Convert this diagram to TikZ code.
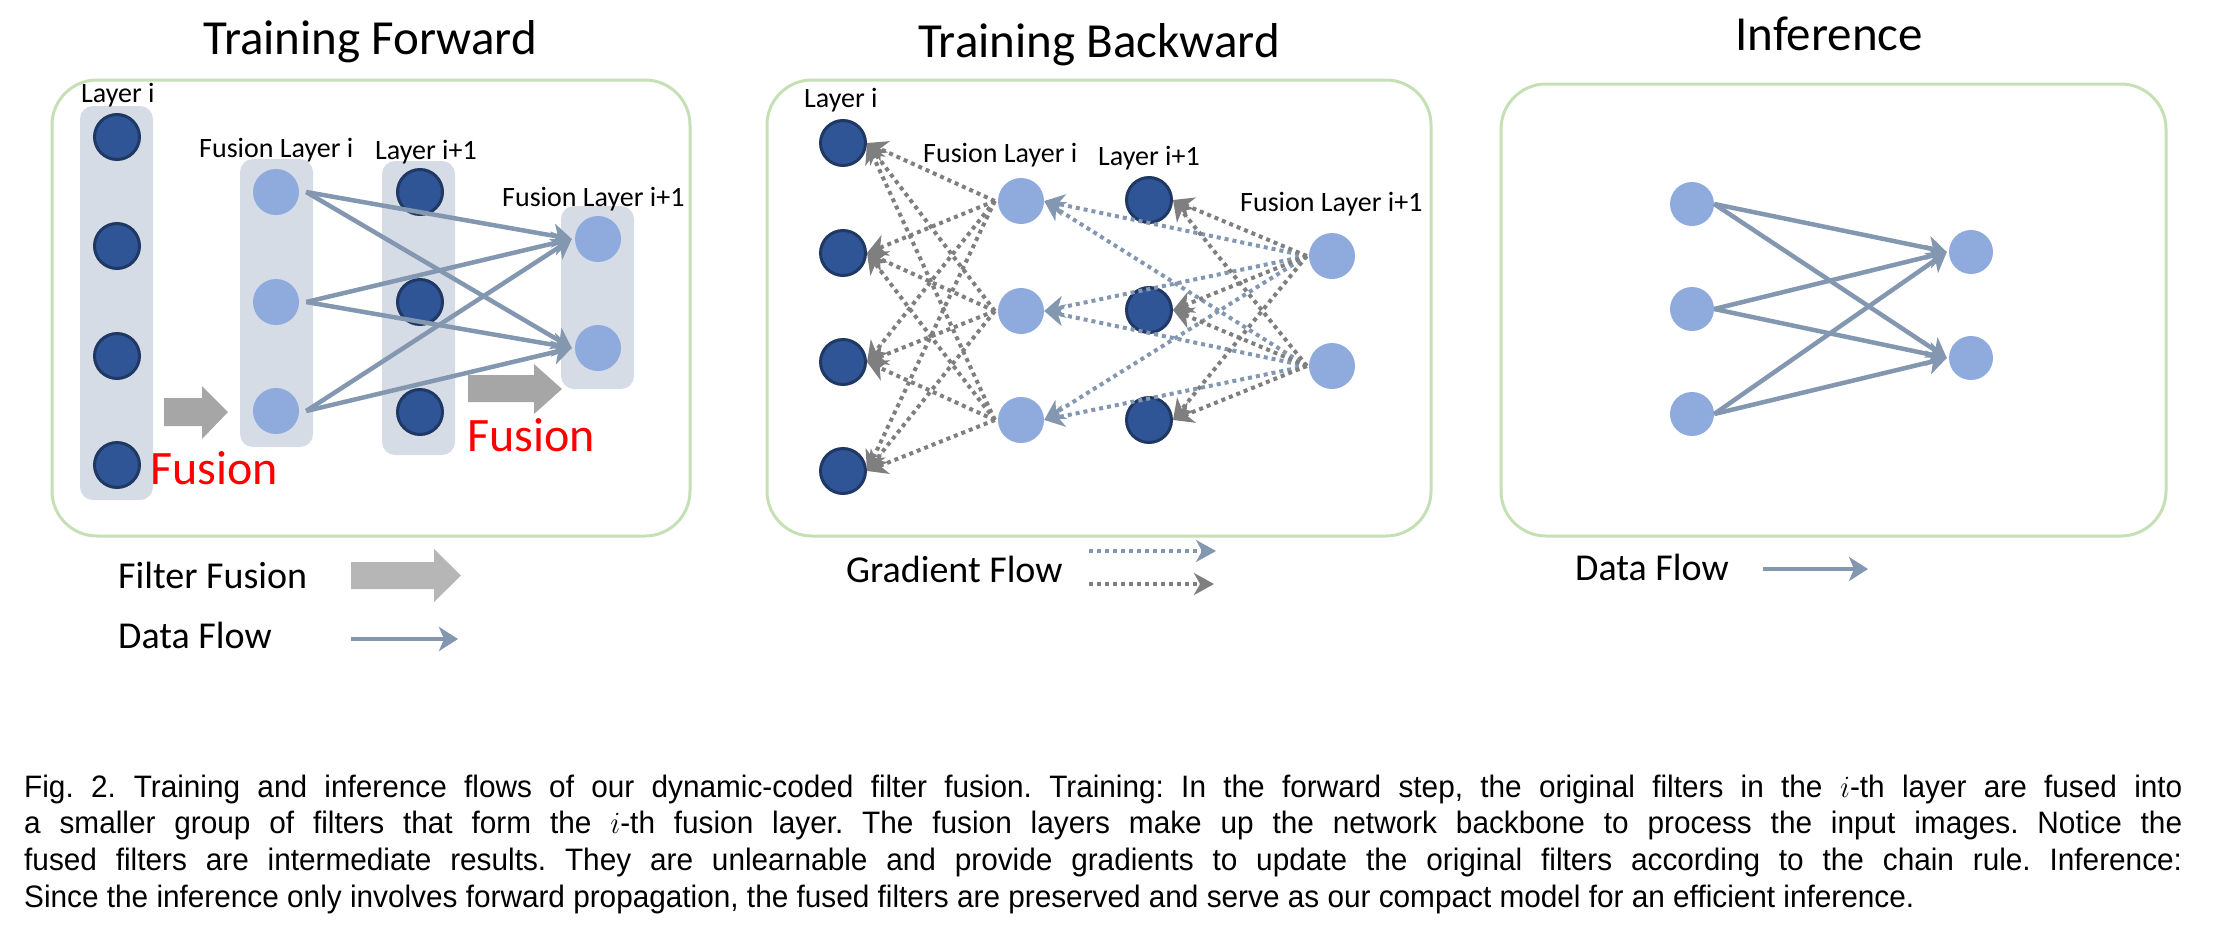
\documentclass[tikz,border=0pt]{standalone}
\usepackage{fix-cm}
\usepackage{graphicx}
\usepackage{fontspec}
\setmainfont{Carlito}
\newfontfamily\capfont{Liberation Sans}
\usetikzlibrary{arrows.meta}
\definecolor{dkblue}{HTML}{2F5597}
\definecolor{dkborder}{HTML}{1F3864}
\definecolor{ltblue}{HTML}{8FAADC}
\definecolor{layerbg}{HTML}{D6DCE5}
\definecolor{flowc}{HTML}{8497B0}
\definecolor{gradgray}{HTML}{7F7F7F}
\definecolor{fusegray}{HTML}{A6A6A6}
\definecolor{leggray}{HTML}{B6B6B6}
\definecolor{panelgreen}{HTML}{C5E0B4}
\newcommand{\capjust}[1]{\scalebox{0.96}[1]{\makebox[2248pt][s]{#1}}}
\newcommand{\caplast}[1]{\scalebox{0.96}[1]{#1}}
\begin{document}
\frenchspacing
\begin{tikzpicture}[x=1pt,y=-1pt,
  panel/.style={draw=panelgreen, line width=3pt, rounded corners=45pt},
  bgcol/.style={fill=layerbg, rounded corners=13pt},
  dk/.style={circle, fill=dkblue, draw=dkborder, line width=3pt, minimum size=45pt, inner sep=0pt},
  lt/.style={circle, fill=ltblue, minimum size=46pt, inner sep=0pt},
  lbl/.style={anchor=base west, inner sep=0pt, font=\fontsize{28}{32}\selectfont},
  ttl/.style={anchor=base, inner sep=0pt, font=\fontsize{49}{58}\selectfont},
  leg/.style={anchor=base west, inner sep=0pt, font=\fontsize{38}{46}\selectfont},
  redfus/.style={anchor=base west, inner sep=0pt, text=red, font=\fontsize{48}{56}\selectfont},
  captext/.style={anchor=base west, inner sep=0pt, font=\capfont\fontsize{31}{36}\selectfont},
  flow/.style={draw=flowc, line width=4.5pt, -{Stealth[length=19pt,width=24pt,inset=5pt]}},
  gradb/.style={draw=flowc, line width=4pt, dash pattern=on 4pt off 4pt, -{Stealth[length=20pt,width=22pt,inset=6pt]}},
  gradg/.style={draw=gradgray, line width=4pt, dash pattern=on 4pt off 4pt, -{Stealth[length=20pt,width=22pt,inset=6pt]}}
]
\useasboundingbox (0,0) rectangle (2222,932);

% ---------- titles
\node[ttl] (t1) at (370,54) {Training Forward};
\node[ttl] (t2) at (1099,57) {Training Backward};
\node[ttl] (t3) at (1829,50) {Inference};

% ---------- panels
\draw[panel] (52,80) rectangle (690,536);
\draw[panel] (767,80) rectangle (1431,536);
\draw[panel] (1501,84) rectangle (2166,536);

% ---------- panel 1 : training forward
\fill[bgcol] (80,106) rectangle (153,500);
\fill[bgcol] (240,159) rectangle (313,447);
\fill[bgcol] (382,161) rectangle (455,455);
\fill[bgcol] (561,206) rectangle (634,389);

\node[lbl] (la1) at (81,102) {Layer i};
\node[lbl] (la2) at (199,157) {Fusion Layer i};
\node[lbl] (la3) at (375,159) {Layer i+1};
\node[lbl] (la4) at (502,206) {Fusion Layer i+1};

\node[dk] (a1) at (117,137) {};
\node[dk] (a2) at (117,246) {};
\node[dk] (a3) at (117,356) {};
\node[dk] (a4) at (117,465) {};
\node[lt] (b1) at (276,192) {};
\node[lt] (b2) at (276,302) {};
\node[lt] (b3) at (276,411) {};
\node[dk] (c1) at (420,192) {};
\node[dk] (c2) at (420,302) {};
\node[dk] (c3) at (420,412) {};
\node[lt] (d1) at (598,239) {};
\node[lt] (d2) at (598,348) {};

\fill[fusegray] (164,398) -- (202,398) -- (202,386) -- (228,412) -- (202,439) -- (202,426) -- (164,426) -- cycle;
\fill[fusegray] (468,375) -- (534,375) -- (534,364) -- (562,389) -- (534,414) -- (534,402) -- (468,402) -- cycle;

\node[redfus] (f1) at (150,484) {Fusion};
\node[redfus] (f2) at (467,451) {Fusion};

\foreach \s in {1,2,3}{
  \foreach \t in {1,2}{
    \draw[flow] ([xshift=7pt]b\s.east) -- ([xshift=-3pt]d\t.west);
  }
}

% legend panel 1
\node[leg] (lg1) at (118,588) {Filter Fusion};
\fill[leggray] (351,562) -- (434,562) -- (434,549) -- (461,575.5) -- (434,602) -- (434,589) -- (351,589) -- cycle;
\node[leg] (lg2) at (118,648) {Data Flow};
\coordinate (df0) at (351,639);
\coordinate (df1) at (458,639);
\draw[flow] (df0) -- (df1);

% ---------- panel 2 : training backward
\node[lbl] (lb1) at (804,107) {Layer i};
\node[lbl] (lb2) at (923,162) {Fusion Layer i};
\node[lbl] (lb3) at (1098,165) {Layer i+1};
\node[lbl] (lb4) at (1240,211) {Fusion Layer i+1};

\node[dk] (p1) at (843,143) {};
\node[dk] (p2) at (843,253) {};
\node[dk] (p3) at (843,362) {};
\node[dk] (p4) at (843,471) {};
\node[lt] (q1) at (1021,201) {};
\node[lt] (q2) at (1021,311) {};
\node[lt] (q3) at (1021,420) {};
\node[dk] (r1) at (1149,200) {};
\node[dk] (r2) at (1149,310) {};
\node[dk] (r3) at (1149,420) {};
\node[lt] (s1) at (1332,256) {};
\node[lt] (s2) at (1332,366) {};

\foreach \s in {1,2,3}{
  \foreach \t in {1,2,3,4}{
    \draw[gradg] ([xshift=-3pt]q\s.west) -- (p\t.east);
  }
}
\foreach \s in {1,2}{
  \foreach \t in {1,2,3}{
    \draw[gradb] ([xshift=-2pt]s\s.west) -- (q\t.east);
  }
}
\foreach \s in {1,2}{
  \foreach \t in {1,2,3}{
    \draw[gradg] ([xshift=-2pt]s\s.west) -- (r\t.east);
  }
}

% legend panel 2
\node[leg] (lg3) at (846,582) {Gradient Flow};
\coordinate (gb0) at (1089,551);
\coordinate (gb1) at (1216,551);
\draw[gradb] (gb0) -- (gb1);
\coordinate (gg0) at (1089,584);
\coordinate (gg1) at (1214,584);
\draw[gradg] (gg0) -- (gg1);

% ---------- panel 3 : inference
\node[lt, minimum size=44pt] (u1) at (1692,204) {};
\node[lt, minimum size=44pt] (u2) at (1692,309) {};
\node[lt, minimum size=44pt] (u3) at (1692,414) {};
\node[lt, minimum size=44pt] (v1) at (1971,252) {};
\node[lt, minimum size=44pt] (v2) at (1971,358) {};
\foreach \s in {1,2,3}{
  \foreach \t in {1,2}{
    \draw[flow] (u\s.east) -- ([xshift=-2pt]v\t.west);
  }
}
\node[leg] (lg4) at (1575,580) {Data Flow};
\coordinate (di0) at (1763,569);
\coordinate (di1) at (1868,569);
\draw[flow] (di0) -- (di1);

% ---------- caption
\node[captext] (c1l) at (24,797) {\capjust{Fig. 2.\hspace{0.6em}Training and inference flows of our dynamic-coded filter fusion. Training: In the forward step, the original filters in the $i$-th layer are fused into}};
\node[captext] (c2l) at (24,833) {\capjust{a smaller group of filters that form the $i$-th fusion layer. The fusion layers make up the network backbone to process the input images. Notice the}};
\node[captext] (c3l) at (24,870) {\capjust{fused filters are intermediate results. They are unlearnable and provide gradients to update the original filters according to the chain rule. Inference:}};
\node[captext] (c4l) at (24,907) {\caplast{Since the inference only involves forward propagation, the fused filters are preserved and serve as our compact model for an efficient inference.}};
\end{tikzpicture}
\end{document}
